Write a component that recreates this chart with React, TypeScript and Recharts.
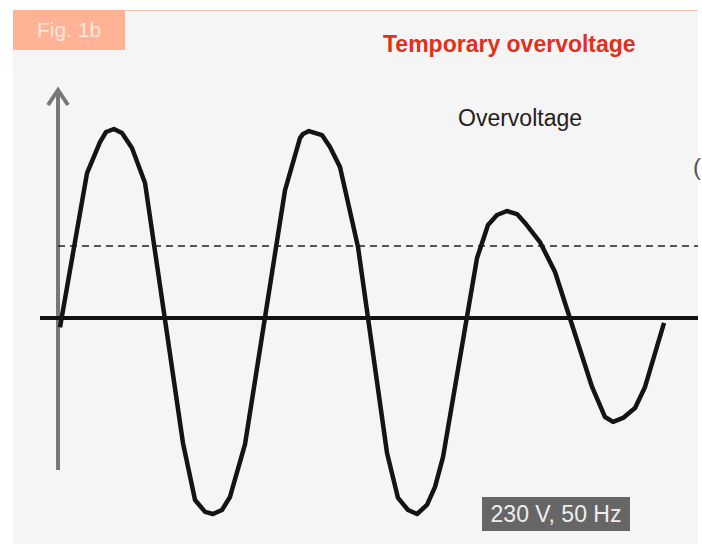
import { Line, LineChart, ReferenceLine, XAxis, YAxis } from "recharts";

// time in ms (50 Hz -> 20 ms per cycle), voltage in per-unit of the nominal peak
const timeMs = [
  0, 2.73, 4.04, 4.65, 5.45, 6.26, 7.27, 8.59,
  12.42, 13.64, 14.65, 15.45, 16.36, 17.17, 18.69,
  22.73, 24.24, 24.55, 25.15, 26.46, 27.27, 28.28, 30.1,
  33.03, 34.14, 35.15, 36.06, 37.07, 37.88, 38.69,
  42.12, 43.23, 44.14, 45.15, 46.16, 46.97, 48.48, 50.0,
  53.74, 55.05, 55.86, 56.87, 58.08, 59.09, 61.01,
];
const voltagePu = [
  -0.05, 0.767, 0.931, 0.984, 1.0, 0.979, 0.899, 0.714,
  -0.661, -0.963, -1.026, -1.037, -1.016, -0.947, -0.667,
  0.677, 0.952, 0.974, 0.989, 0.968, 0.905, 0.799, 0.376,
  -0.714, -0.952, -1.016, -1.037, -0.989, -0.894, -0.735,
  0.317, 0.492, 0.545, 0.566, 0.55, 0.503, 0.402, 0.243,
  -0.365, -0.524, -0.55, -0.529, -0.476, -0.365, -0.026,
];
const overvoltageLevel = 0.381;
const axisTime = -0.2;
const axisRange = [-0.804, 1.217];

const title = "Temporary overvoltage";
const figLabel = "Fig. 1b";
const levelLabel = "Overvoltage";
const supplyLabel = "230 V, 50 Hz";

const X_DOMAIN: [number, number] = [-2.02, 64.44];
const Y_DOMAIN: [number, number] = [-1.18, 1.25];

const data = timeMs.map((t, i) => ({ t, v: voltagePu[i] }));

const font = '"Liberation Sans", Arial, Helvetica, sans-serif';

// eslint-disable-next-line @typescript-eslint/no-explicit-any
const AxisArrow = (props: any) => {
  const { x1, y1, x2, y2 } = props;
  const top = Math.min(y1, y2);
  const bottom = Math.max(y1, y2);
  return (
    <g stroke="#777" strokeWidth={4} fill="none">
      <line x1={x1} y1={bottom} x2={x2} y2={top + 2} />
      <polyline points={`${x1 - 10},${top + 17} ${x1},${top + 2} ${x1 + 10},${top + 17}`} strokeLinejoin="miter" />
    </g>
  );
};

export default function App() {
  return (
    <div style={{ position: "absolute", left: 0, top: 0, width: 702, height: 544, background: "#fff", overflow: "hidden", fontFamily: font }}>
      <div style={{ position: "absolute", left: 13, top: 10, width: 685, height: 534, background: "#f5f5f5", borderTop: "1px solid #fbc3ad" }} />
      <div style={{ position: "absolute", left: 13, top: 10, width: 112, height: 40, background: "#ffb295" }} />
      <div style={{ position: "absolute", left: 37, top: 18, fontSize: 21, color: "#fde6dd", lineHeight: "24px" }}>{figLabel}</div>
      <div style={{ position: "absolute", left: 383, top: 31, fontSize: 23, fontWeight: 700, color: "#e0301e", lineHeight: "26px" }}>{title}</div>
      <div style={{ position: "absolute", left: 458, top: 104, fontSize: 23, color: "#222", lineHeight: "28px" }}>{levelLabel}</div>
      <div style={{ position: "absolute", left: 693, top: 153, fontSize: 24, color: "#555", lineHeight: "28px" }}>(</div>
      <div style={{ position: "absolute", left: 482, top: 497, width: 148, height: 34, background: "#666", color: "#eee", fontSize: 23, lineHeight: "34px", textAlign: "center" }}>
        {supplyLabel}
      </div>
      <div style={{ position: "absolute", left: 0, top: 0 }}>
        <LineChart width={702} height={544} data={data} margin={{ top: 81.75, right: 4, bottom: 3, left: 40 }}>
          <XAxis type="number" dataKey="t" domain={X_DOMAIN} hide />
          <YAxis type="number" domain={Y_DOMAIN} hide />
          <ReferenceLine
            segment={[{ x: axisTime, y: axisRange[0] }, { x: axisTime, y: axisRange[1] }]}
            ifOverflow="visible"
            shape={AxisArrow}
          />
          <ReferenceLine
            segment={[{ x: axisTime, y: overvoltageLevel }, { x: X_DOMAIN[1], y: overvoltageLevel }]}
            stroke="#222"
            strokeWidth={1.6}
            strokeDasharray="7 5"
          />
          <ReferenceLine y={0} stroke="#111" strokeWidth={4} />
          <Line
            type="linear"
            dataKey="v"
            stroke="#141414"
            strokeWidth={4.5}
            strokeLinejoin="round"
            dot={false}
            activeDot={false}
            isAnimationActive={false}
          />
        </LineChart>
      </div>
    </div>
  );
}
